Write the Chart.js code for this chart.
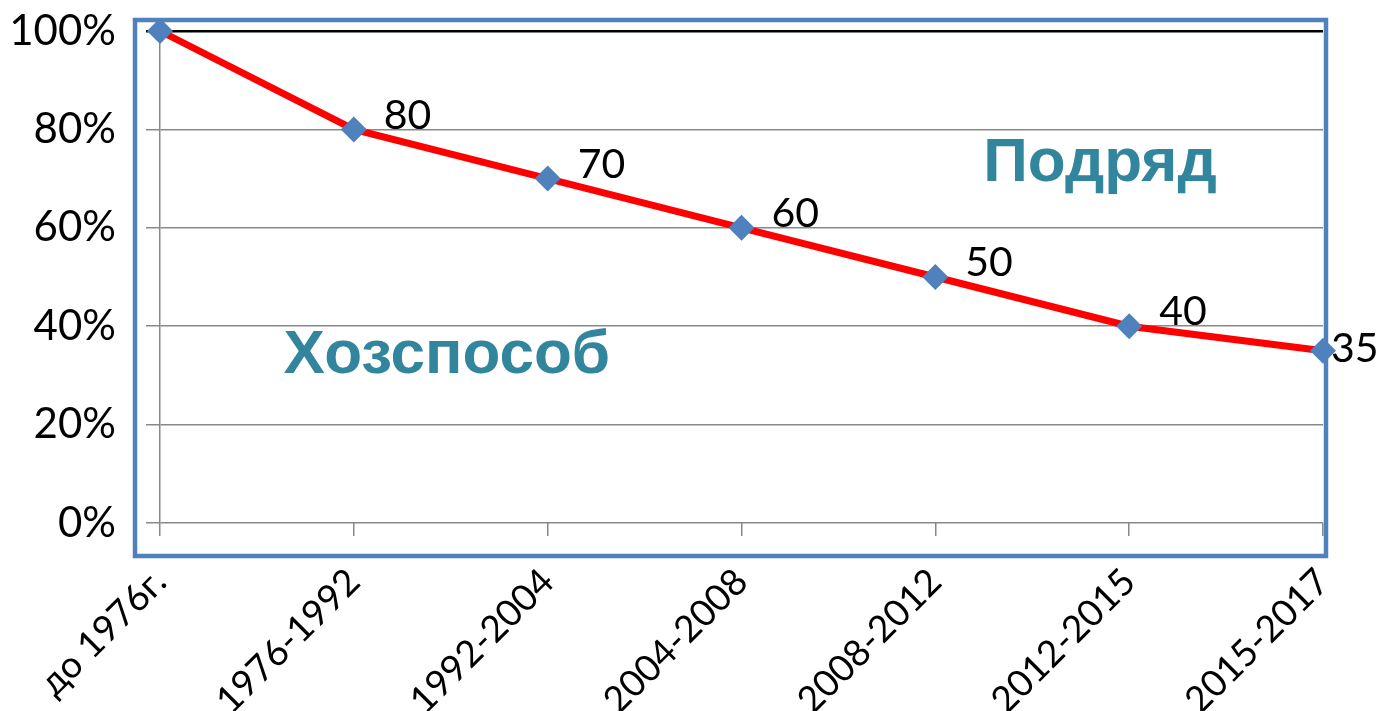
<!DOCTYPE html>
<html>
<head>
<meta charset="utf-8">
<script src="https://cdn.jsdelivr.net/npm/chart.js@4"></script>
<style>
  html, body { margin: 0; padding: 0; background: #fff; }
  #wrap { width: 1382px; height: 711px; }
</style>
</head>
<body>
<div id="wrap"><canvas id="c"></canvas></div>
<script>
// data
const periods = ['до 1976г.', '1976-1992', '1992-2004', '2004-2008', '2008-2012', '2012-2015', '2015-2017'];
const shares = [100, 80, 70, 60, 50, 40, 35];
const pointLabels = ['', '80', '70', '60', '50', '40', '35'];
const yTicks = [0, 20, 40, 60, 80, 100];
const zoneNames = ['Хозспособ', 'Подряд'];

const lab = 'Lato, "Open Sans", sans-serif';

// border box, value labels and the two zone captions
const extras = {
  id: 'extras',
  beforeDatasetsDraw(chart) {
    const { ctx, chartArea: a } = chart;
    ctx.save();
    ctx.strokeStyle = '#4F81BD';
    ctx.lineWidth = 4.5;
    ctx.strokeRect(a.left - 25, a.top - 11, a.right - a.left + 28, a.bottom - a.top + 44);
    ctx.restore();
  },
  afterDraw(chart) {
    const { ctx, scales: { x, y } } = chart;
    const pts = chart.getDatasetMeta(0).data;
    ctx.save();
    ctx.font = '41px ' + lab;
    ctx.fillStyle = '#000';
    ctx.textAlign = 'left';
    ctx.textBaseline = 'middle';
    pts.forEach((p, i) => {
      if (!pointLabels[i]) return;
      const last = i === pts.length - 1;
      ctx.fillText(pointLabels[i], p.x + (last ? 8 : 30), p.y + (last ? -2 : -14));
    });

    ctx.font = 'bold 62px "Liberation Sans", Arial, sans-serif';
    ctx.fillStyle = '#31859C';
    ctx.textAlign = 'center';
    ctx.fillText(zoneNames[0], x.getPixelForValue(1.48), y.getPixelForValue(34));
    ctx.fillText(zoneNames[1], x.getPixelForValue(4.85), y.getPixelForValue(73));
    ctx.restore();
  }
};

function noPad(s) {
  s.paddingTop = 0; s.paddingBottom = 0; s.paddingLeft = 0; s.paddingRight = 0;
}

new Chart(document.getElementById('c'), {
  type: 'line',
  data: {
    labels: periods,
    datasets: [{
      data: shares,
      borderColor: '#FF0000',
      borderWidth: 7,
      pointStyle: 'rectRot',
      pointRadius: 13,
      pointHoverRadius: 13,
      pointBackgroundColor: '#4F81BD',
      pointBorderColor: '#4F81BD',
      pointBorderWidth: 0,
      tension: 0,
      clip: false
    }]
  },
  options: {
    responsive: true,
    maintainAspectRatio: false,
    animation: false,
    layout: { padding: { top: 31, right: 59, bottom: 0, left: 0 } },
    plugins: { legend: { display: false }, tooltip: { enabled: false } },
    scales: {
      x: {
        offset: false,
        afterFit(s) { s.height = 188; noPad(s); },
        grid: { drawOnChartArea: false, color: '#888', lineWidth: 1.5, tickLength: 13 },
        border: { display: false },
        ticks: { color: '#000', font: { size: 37, family: lab }, minRotation: 45, maxRotation: 45, padding: 24 }
      },
      y: {
        min: 0,
        max: 100,
        afterFit(s) { s.width = 160; noPad(s); },
        afterBuildTicks(s) { s.ticks = yTicks.map(v => ({ value: v })); },
        grid: {
          color: c => c.tick && c.tick.value === 100 ? '#000' : '#888',
          lineWidth: c => c.tick && c.tick.value === 100 ? 2.5 : 1.5,
          tickLength: 14
        },
        border: { display: true, color: '#888', width: 1.5 },
        ticks: { color: '#000', font: { size: 42, family: lab }, padding: 30, callback: v => v + '%' }
      }
    }
  },
  plugins: [extras]
});
</script>
</body>
</html>
